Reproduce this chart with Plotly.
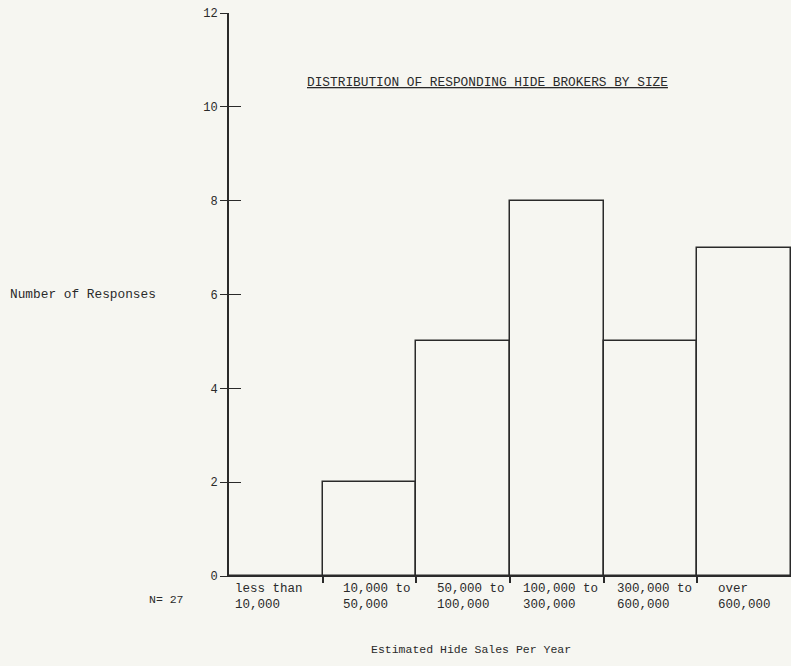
import plotly.graph_objects as go

categories = ["less than<br>10,000", "10,000 to<br>50,000", "50,000 to<br>100,000",
              "100,000 to<br>300,000", "300,000 to<br>600,000", "over<br>600,000"]
responses = [0, 2, 5, 8, 5, 7]
y_ticks = [0, 2, 4, 6, 8, 10, 12]
title_text = "DISTRIBUTION OF RESPONDING HIDE BROKERS BY SIZE"
y_title = "Number of Responses"
x_title = "Estimated Hide Sales Per Year"
n_text = "N= 27"

BG = "#f6f6f1"
INK = "#2a2a2a"
FONT = "Liberation Mono"

centers = [i + 0.5 for i in range(len(categories))]
bounds = [i for i in range(1, len(categories))]

fig = go.Figure()
fig.add_trace(go.Bar(
    x=centers, y=responses, width=1.0,
    marker=dict(color="rgba(0,0,0,0)", line=dict(color=INK, width=1.5)),
    showlegend=False, hoverinfo="skip",
))
# invisible trace for the second (inner-tick) y axis
fig.add_trace(go.Scatter(x=[0], y=[0], yaxis="y2", mode="markers",
                         marker=dict(opacity=0), showlegend=False, hoverinfo="skip"))

offsets = [0.04, 0.2, 0.2, 0.12, 0.12, 0.2]
annotations = []
for i, lab in enumerate(categories):
    annotations.append(dict(
        x=i + offsets[i], y=0, xref="x", yref="y", yanchor="top", xanchor="left",
        align="left", text=lab, showarrow=False, yshift=-4,
        font=dict(family=FONT, size=12.5, color=INK),
    ))

annotations += [
    dict(x=(305 - 229) / 562, y=10.52, xref="paper", yref="y", showarrow=False,
         xanchor="left", yanchor="middle",
         text='<span style="text-decoration:underline">' + title_text + '</span>',
         font=dict(family=FONT, size=12.8, color=INK)),
    dict(x=(8 - 229) / 562, y=6, xref="paper", yref="y", showarrow=False,
         xanchor="left", yanchor="middle", text=y_title,
         font=dict(family=FONT, size=12.8, color=INK)),
    dict(x=(147 - 229) / 562, y=0, xref="paper", yref="y", showarrow=False,
         xanchor="left", yanchor="middle", yshift=-23, text=n_text,
         font=dict(family=FONT, size=11.5, color=INK)),
    dict(x=(471 - 229) / 562, y=0, xref="paper", yref="y", showarrow=False,
         xanchor="center", yanchor="middle", yshift=-73, text=x_title,
         font=dict(family=FONT, size=11.5, color=INK)),
]

fig.update_layout(
    width=791, height=666,
    margin=dict(l=229, r=0, t=13, b=90),
    paper_bgcolor=BG, plot_bgcolor=BG,
    bargap=0,
    xaxis=dict(range=[0, 6], showgrid=False, zeroline=False, showline=True,
               linecolor=INK, linewidth=1.3, tickmode="array", tickvals=bounds,
               ticks="outside", ticklen=6, tickwidth=1.5, tickcolor=INK,
               showticklabels=False),
    yaxis=dict(range=[0, 12], showgrid=False, zeroline=False, showline=True,
               linecolor=INK, linewidth=1.8, tickmode="array", tickvals=y_ticks,
               ticks="outside", ticklen=7, tickwidth=1.4, tickcolor=INK,
               tickfont=dict(family=FONT, size=12, color=INK)),
    yaxis2=dict(range=[0, 12], overlaying="y", side="left", showgrid=False,
                zeroline=False, showline=False, tickmode="array", tickvals=y_ticks,
                ticks="inside", ticklen=12, tickwidth=1.4, tickcolor=INK,
                showticklabels=False),
    annotations=annotations,
)

fig.write_html(
    "out.html",
    config={"displayModeBar": False},
    post_script="document.body.style.margin='0';document.body.style.background='" + BG + "';",
)
